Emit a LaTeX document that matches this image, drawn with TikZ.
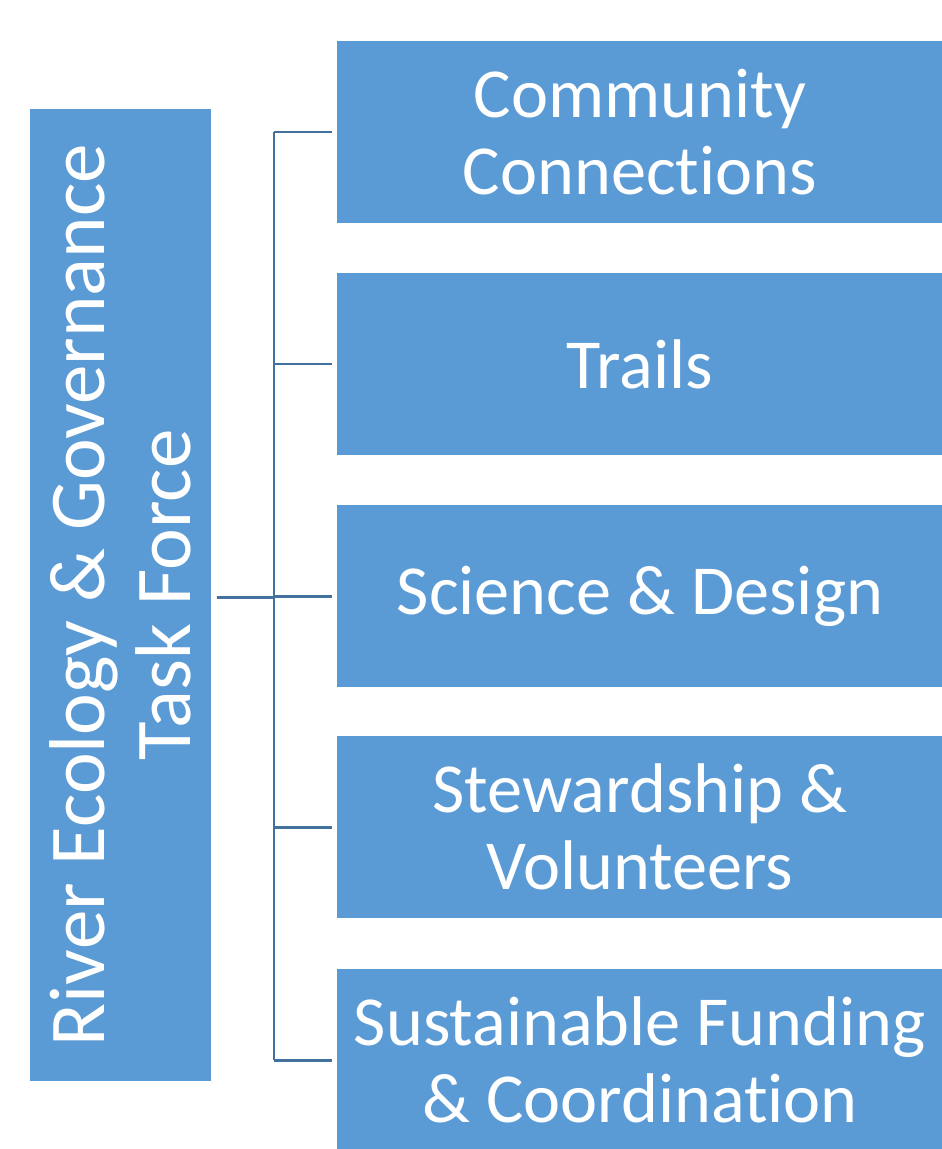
\documentclass[tikz,border=0pt]{standalone}
\usepackage{fontspec}
\setmainfont[Ligatures=NoCommon]{Carlito}
\usepackage{xcolor}
\usetikzlibrary{positioning}
\definecolor{boxblue}{HTML}{5B9BD5}
\definecolor{linkblue}{HTML}{41719C}
\tikzset{
    teambox/.style={fill=boxblue, text=white, align=center, inner sep=0pt,
        minimum width=12.12cm, minimum height=3.64cm,
        font=\fontsize{40}{44}\selectfont},
    link/.style={draw=linkblue, line width=1.7pt}
}

\begin{document}
\begin{tikzpicture}[x=0.02cm, y=-0.02cm]
                \useasboundingbox (0,0) rectangle (942,1149);

                % rotated by 90, so its south side faces right
                \node[fill=boxblue, text=white, align=center, inner sep=0pt, rotate=90,
                      minimum width=19.44cm, minimum height=3.62cm,
                      font=\fontsize{45}{49}\selectfont] (taskforce) at (120.5,595)
                      {River Ecology \& Governance\\Task Force};

                \node[teambox] (comm)    at (640,132) {Community\\Connections};
                \node[teambox] (trails)  at (640,364) {Trails};
                \node[teambox] (science) at (640,596) {Science \& Design};
                \node[teambox] (steward) at (640,827) {Stewardship \&\\Volunteers};
                \node[teambox] (funding) at (640,1060) {Sustainable Funding\\\& Coordination};

                \coordinate (J) at (274,597);

                \draw[link]  ([xshift=3pt]taskforce.south |- J) -- (J);
                \draw[link]  (J |- comm.west) -- (J |- funding.west);
                \foreach \b in {comm,trails,science,steward,funding}
                    \draw[link, shorten >=2.5pt]  (J |- \b.west) -- (\b.west);
            \end{tikzpicture}
\end{document}
